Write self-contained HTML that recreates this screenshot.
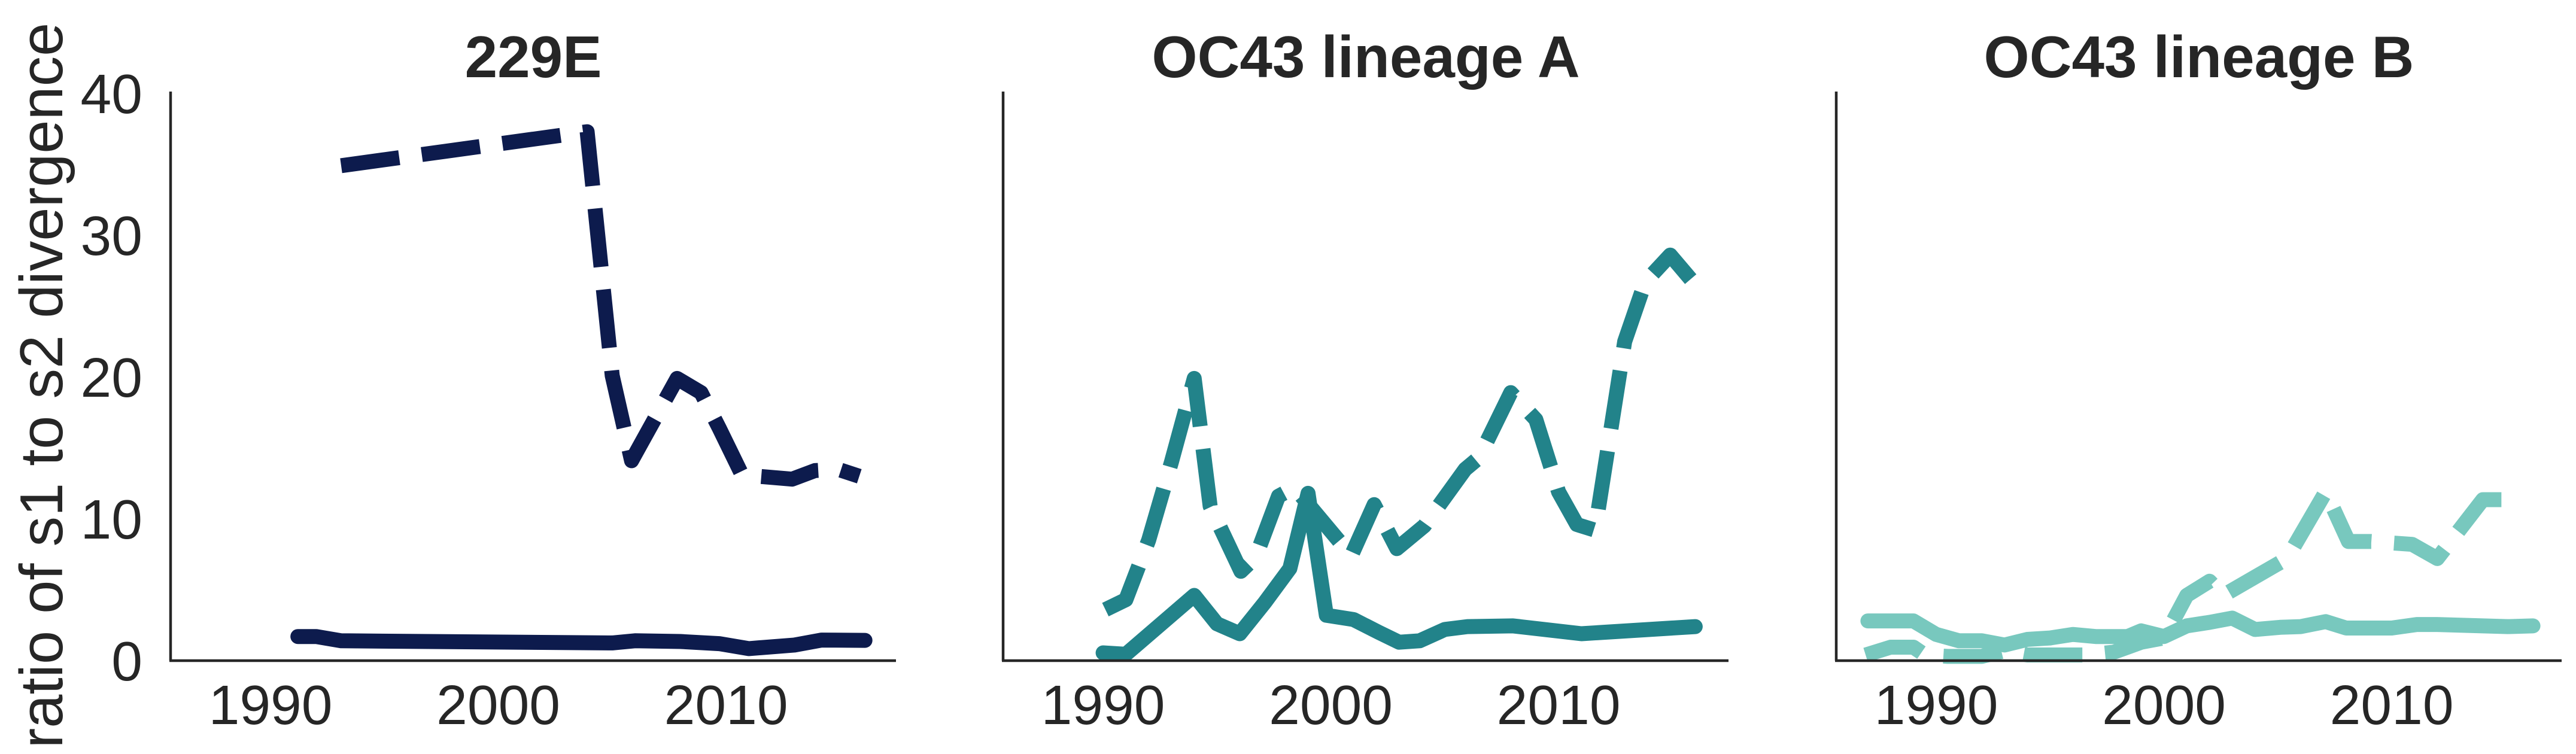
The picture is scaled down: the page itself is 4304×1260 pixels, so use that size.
<!DOCTYPE html>
<html><head><meta charset="utf-8"><style>
html,body{margin:0;padding:0;background:#fff;}
svg{display:block;}
text{font-family:"Liberation Sans",Arial,sans-serif;fill:#262626;}
</style></head><body>
<svg id="chart" width="4304" height="1260" viewBox="0 0 4304 1260" xmlns="http://www.w3.org/2000/svg">
<text transform="translate(104,644) rotate(-90)" text-anchor="middle" font-size="101">ratio of s1 to s2 divergence</text>
</svg>
<script>
// ---- data ----
const panelTitles = ["229E", "OC43 lineage A", "OC43 lineage B"];
const panelColors = ["#0d1b4d", "#22838a", "#78c8be"];
const xTicks = [1990, 2000, 2010];
const yTicks = [0, 10, 20, 30, 40];

const e229DashYears = [1993.1, 2003.9, 2005.0, 2005.85, 2007.85, 2008.9, 2009.7, 2010.7, 2012.9, 2013.9, 2014.9, 2015.85];
const e229DashVals  = [34.9, 37.3, 20.1, 14.1, 19.9, 18.9, 16.4, 13.1, 12.8, 13.4, 13.5, 13.0];
const e229SolidYears = [1991.2, 1992.0, 1993.1, 2005.0, 2006.0, 2008.0, 2009.7, 2011.0, 2013.0, 2014.2, 2016.1];
const e229SolidVals  = [1.7, 1.7, 1.4, 1.25, 1.4, 1.35, 1.2, 0.85, 1.1, 1.45, 1.43];

const aDashYears = [1990.1, 1991.0, 1992.0, 1993.0, 1994.0, 1994.7, 1996.05, 1996.7, 1997.7, 1998.4, 2000.9, 2001.9, 2002.9, 2004.1, 2005.9, 2006.5, 2007.9, 2009.0, 2010.0, 2010.8, 2011.6, 2012.9, 2013.8, 2014.9, 2015.8];
const aDashVals  = [3.6, 4.3, 8.5, 14.0, 19.9, 10.9, 6.3, 7.3, 11.6, 12.2, 7.4, 11.0, 7.9, 9.5, 13.5, 14.3, 18.9, 17.0, 11.9, 9.6, 9.2, 22.5, 26.7, 28.6, 26.9];
const aSolidYears = [1990.0, 1991.0, 1994.0, 1995.0, 1996.0, 1997.1, 1998.2, 1999.0, 1999.8, 2001.0, 2002.1, 2003.0, 2003.9, 2005.0, 2006.0, 2008.0, 2011.0, 2016.0];
const aSolidVals  = [0.55, 0.45, 4.6, 2.6, 1.9, 4.1, 6.5, 11.8, 3.2, 2.9, 2.0, 1.3, 1.4, 2.2, 2.4, 2.45, 1.9, 2.4];

const bDashYears = [1986.9, 1988.0, 1989.0, 1989.5, 1990.5, 1992.0, 1993.0, 1994.0, 1996.6, 1997.8, 1999.0, 2000.0, 2001.0, 2002.0, 2002.6, 2004.0, 2005.4, 2007.1, 2008.1, 2009.1, 2010.9, 2012.0, 2014.0, 2015.8];
const bDashVals  = [0.4, 0.95, 0.95, 0.4, 0.3, 0.3, 0.7, 0.4, 0.4, 0.6, 1.3, 1.6, 4.6, 5.6, 4.6, 5.9, 7.2, 11.9, 8.4, 8.4, 8.2, 7.2, 11.35, 11.35];
const bSolidYears = [1987.0, 1989.0, 1990.0, 1991.0, 1992.0, 1993.0, 1994.0, 1995.0, 1996.0, 1997.0, 1998.4, 1999.0, 2000.0, 2001.0, 2002.0, 2003.0, 2004.0, 2005.1, 2006.0, 2007.1, 2008.0, 2010.0, 2011.1, 2012.0, 2015.1, 2016.2];
const bSolidVals  = [2.8, 2.8, 1.85, 1.4, 1.4, 1.1, 1.5, 1.6, 1.85, 1.7, 1.7, 2.1, 1.7, 2.45, 2.7, 3.0, 2.2, 2.35, 2.4, 2.75, 2.3, 2.3, 2.55, 2.55, 2.4, 2.45];

const dashSeries = [[e229DashYears, e229DashVals], [aDashYears, aDashVals], [bDashYears, bDashVals]];
const solidSeries = [[e229SolidYears, e229SolidVals], [aSolidYears, aSolidVals], [bSolidYears, bSolidVals]];

// ---- layout ----
const NS = "http://www.w3.org/2000/svg";
const svg = document.getElementById("chart");
const panelX0 = [285, 1676, 3068];
const panelW = 1212;
const yTop = 153, yBottom = 1104;
const xMin = 1985.61, xMax = 2017.46;
const yMin = 0, yMax = 40.13;

function mk(tag, attrs) {
  const el = document.createElementNS(NS, tag);
  for (const k in attrs) el.setAttribute(k, attrs[k]);
  return el;
}
function xScale(p, yr) { return panelX0[p] + (yr - xMin) / (xMax - xMin) * panelW; }
function yScale(v) { return yBottom - (v - yMin) / (yMax - yMin) * (yBottom - yTop); }
function pathD(p, xs, ys) {
  return xs.map((x, i) => (i ? "L" : "M") + xScale(p, x).toFixed(1) + "," + yScale(ys[i]).toFixed(1)).join(" ");
}

for (let p = 0; p < 3; p++) {
  const g = mk("g", {});
  
  
  svg.appendChild(g);

  const title = mk("text", {x: panelX0[p] + panelW / 2, y: 129, "text-anchor": "middle", "font-size": 98, "font-weight": "bold"});
  
  
  title.textContent = panelTitles[p];
  g.appendChild(title);

  const dash = mk("path", {d: pathD(p, dashSeries[p][0], dashSeries[p][1]), fill: "none", stroke: panelColors[p], "stroke-width": 25, "stroke-dasharray": "98 38", "stroke-linejoin": "round", "stroke-linecap": "butt"});
  
  
  g.appendChild(dash);
  const solid = mk("path", {d: pathD(p, solidSeries[p][0], solidSeries[p][1]), fill: "none", stroke: panelColors[p], "stroke-width": 25, "stroke-linejoin": "round", "stroke-linecap": "round"});
  
  
  g.appendChild(solid);

  const ly = mk("line", {x1: panelX0[p], y1: yTop, x2: panelX0[p], y2: yBottom, stroke: "#262626", "stroke-width": 4.5});
  
  
  g.appendChild(ly);
  const lx = mk("line", {x1: panelX0[p] - 2, y1: yBottom, x2: panelX0[p] + panelW, y2: yBottom, stroke: "#262626", "stroke-width": 4.5});
  
  
  g.appendChild(lx);

  xTicks.forEach(t => {
    const tx = mk("text", {x: xScale(p, t), y: 1210, "text-anchor": "middle", "font-size": 93});
    
    
    tx.textContent = t;
    g.appendChild(tx);
  });
  if (p === 0) {
    yTicks.forEach(t => {
      const ty = mk("text", {x: 238, y: yScale(t) + 33, "text-anchor": "end", "font-size": 93});
      
      
      ty.textContent = t;
      g.appendChild(ty);
    });
  }
}
</script>
</body></html>
